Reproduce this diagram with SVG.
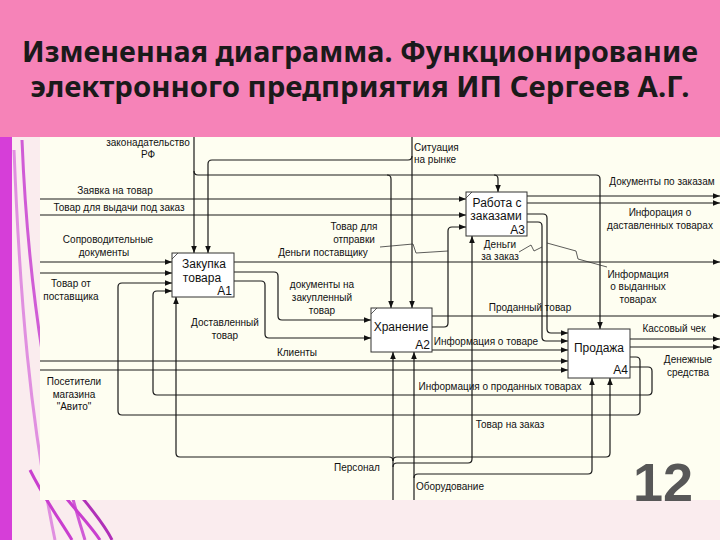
<svg xmlns="http://www.w3.org/2000/svg" width="720" height="540" viewBox="0 0 720 540">
<defs>
<marker id="ah" viewBox="0 0 10 10" refX="10" refY="5" markerWidth="7" markerHeight="7" orient="auto" markerUnits="userSpaceOnUse">
<path d="M0,1 L10,5 L0,9 z" fill="#111"/>
</marker>
<style>
.c{fill:none;stroke:#1a1a1a;stroke-width:1.2;marker-end:url(#ah)}
.l{fill:none;stroke:#333;stroke-width:0.8}
.box{fill:#fff;stroke:#333;stroke-width:1}
.bt{font-family:"Liberation Sans",Arial,sans-serif;font-size:12px;fill:#111}
.t{font-family:"Liberation Sans",Arial,sans-serif;font-size:10px;fill:#111}
.title{font-family:"Noto Sans","Open Sans",sans-serif;font-weight:700;font-size:28px;fill:#1a1a1a}
.deco{fill:none;stroke-width:3}
</style>
</defs>
<rect x="0" y="0" width="720" height="540" fill="#FAECEE"/>
<rect x="0" y="137" width="12" height="403" fill="#D63ED8"/>
<g id="decor">
<path class="deco" d="M14,150 C20,300 30,420 55,540" stroke="#E08FE0"/>
<path class="deco" d="M22,140 C28,290 50,430 85,540" stroke="#D05BD6"/>
<path class="deco" d="M30,470 C45,500 60,520 72,540" stroke="#C93FCF" stroke-width="5"/>
<path class="deco" d="M60,490 C75,510 90,525 100,540" stroke="#C93FCF" stroke-width="4"/>
<path class="deco" d="M80,495 C92,510 105,525 112,540" stroke="#B030B8" stroke-width="3"/>
</g>
<rect x="0" y="0" width="720" height="137" fill="#F683B8"/>
<text class="title" x="360" y="62" text-anchor="middle" textLength="676" lengthAdjust="spacingAndGlyphs">Измененная диаграмма. Функционирование</text>
<text class="title" x="360" y="97" text-anchor="middle" textLength="659" lengthAdjust="spacingAndGlyphs">электронного предприятия ИП Сергеев А.Г.</text>
<rect x="40" y="137" width="680" height="363" fill="#FEFEF1"/>

<g id="connectors">
<path class="c" d="M194,137 V253"/>
<path class="c" d="M194,171 Q194,175 198,175 H596 Q600,175 600,179 V329"/>
<path class="c" d="M387,175 Q391,175 391,179 V308"/>
<path class="c" d="M494,175 Q498,175 498,179 V192"/>
<path class="c" d="M412,137 V308"/>
<path class="c" d="M412,156 Q412,160 408,160 H212 Q208,160 208,164 V253"/>
<path class="c" d="M40,199 H466"/>
<path class="c" d="M40,215 H466"/>
<path class="c" d="M40,262 H172"/>
<path class="c" d="M40,273 H172"/>
<path class="c" d="M234,262 H720"/>
<path class="c" d="M234,272 H274 Q278,272 278,276 V316 Q278,320 282,320 H371"/>
<path class="c" d="M234,281 H261 Q265,281 265,285 V334 Q265,338 269,338 H371"/>
<path class="c" d="M432,327 H444 Q448,327 448,323 V231 Q448,227 452,227 H466"/>
<path class="c" d="M432,316 H720"/>
<path class="c" d="M432,350 H568"/>
<path class="c" d="M40,361 H568"/>
<path class="c" d="M40,370 H568"/>
<path class="c" d="M527,196 H720"/>
<path class="c" d="M527,203 H720"/>
<path class="c" d="M527,214 H543 Q547,214 547,218 V329 Q547,333 551,333 H568"/>
<path class="c" d="M527,222 H538 Q542,222 542,226 V337 Q542,341 546,341 H568"/>
<path class="c" d="M630,339 H720"/>
<path class="c" d="M630,347 H720"/>
<path class="c" d="M630,357 H636 Q640,357 640,361 V411 Q640,415 636,415 H122 Q118,415 118,411 V287 Q118,283 122,283 H172"/>
<path class="c" d="M630,367 H648 Q652,367 652,371 V391 Q652,395 648,395 H157 Q153,395 153,391 V295 Q153,291 157,291 H172"/>
<path class="c" d="M393,500 V352"/>
<path class="c" d="M393,461 Q393,457 389,457 H180 Q176,457 176,453 V297"/>
<path class="c" d="M393,461 Q393,457 397,457 H606 Q610,457 610,453 V378"/>
<path class="c" d="M393,467 Q393,463 397,463 H468 Q472,463 472,459 V236"/>
<path class="c" d="M414,500 V352"/>
<path class="c" d="M414,478 Q414,474 418,474 H588 Q592,474 592,470 V378"/>
<path class="l" d="M380,247 L413,244 L416,253 L448,251"/>
<path class="l" d="M519,252 L531,245 L534,251 L542,247"/>
<path class="l" d="M547,243 L576,251 L578,259 L607,267"/>
</g>

<g id="A1">
<rect class="box" x="172" y="253" width="62" height="44"/>
<path class="l" d="M172,259 L178,253"/>
<text class="bt" x="204" y="268" text-anchor="middle">Закупка</text>
<text class="bt" x="202" y="282" text-anchor="middle">товара</text>
<text class="bt" x="232" y="295" text-anchor="end" font-size="11">A1</text>
</g>
<g id="A2">
<rect class="box" x="371" y="308" width="61" height="44"/>
<path class="l" d="M371,314 L377,308"/>
<text class="bt" x="401" y="331" text-anchor="middle">Хранение</text>
<text class="bt" x="430" y="349" text-anchor="end" font-size="11">A2</text>
</g>
<g id="A3">
<rect class="box" x="466" y="192" width="61" height="44"/>
<path class="l" d="M466,198 L472,192"/>
<text class="bt" x="497" y="207" text-anchor="middle">Работа с</text>
<text class="bt" x="496" y="220" text-anchor="middle">заказами</text>
<text class="bt" x="525" y="234" text-anchor="end" font-size="11">A3</text>
</g>
<g id="A4">
<rect class="box" x="568" y="329" width="62" height="49"/>
<text class="bt" x="599" y="352" text-anchor="middle">Продажа</text>
<text class="bt" x="628" y="374" text-anchor="end" font-size="11">A4</text>
</g>

<g id="labels">
<text class="t" x="148" y="146" text-anchor="middle">законадательство</text>
<text class="t" x="148" y="158" text-anchor="middle">РФ</text>
<text class="t" x="414" y="151">Ситуация</text>
<text class="t" x="414" y="163">на рынке</text>
<text class="t" x="115" y="194" text-anchor="middle">Заявка на товар</text>
<text class="t" x="119" y="211" text-anchor="middle">Товар для выдачи под заказ</text>
<text class="t" x="108" y="243" text-anchor="middle">Сопроводительные</text>
<text class="t" x="104" y="256" text-anchor="middle">документы</text>
<text class="t" x="71" y="287" text-anchor="middle">Товар от</text>
<text class="t" x="71" y="300" text-anchor="middle">поставщика</text>
<text class="t" x="354" y="230" text-anchor="middle">Товар для</text>
<text class="t" x="354" y="243" text-anchor="middle">отправки</text>
<text class="t" x="323" y="256" text-anchor="middle">Деньги поставщику</text>
<text class="t" x="322" y="288" text-anchor="middle">документы на</text>
<text class="t" x="322" y="301" text-anchor="middle">закупленный</text>
<text class="t" x="322" y="314" text-anchor="middle">товар</text>
<text class="t" x="225" y="326" text-anchor="middle">Доставленный</text>
<text class="t" x="225" y="339" text-anchor="middle">товар</text>
<text class="t" x="297" y="356" text-anchor="middle">Клиенты</text>
<text class="t" x="74" y="385" text-anchor="middle">Посетители</text>
<text class="t" x="74" y="398" text-anchor="middle">магазина</text>
<text class="t" x="74" y="410" text-anchor="middle">"Авито"</text>
<text class="t" x="500" y="248" text-anchor="middle">Деньги</text>
<text class="t" x="500" y="260" text-anchor="middle">за заказ</text>
<text class="t" x="662" y="185" text-anchor="middle">Документы по заказам</text>
<text class="t" x="660" y="216" text-anchor="middle">Инфорация о</text>
<text class="t" x="660" y="229" text-anchor="middle">даставленных товарах</text>
<text class="t" x="638" y="278" text-anchor="middle">Информация</text>
<text class="t" x="638" y="290" text-anchor="middle">о выданных</text>
<text class="t" x="638" y="303" text-anchor="middle">товарах</text>
<text class="t" x="530" y="311" text-anchor="middle">Проданный товар</text>
<text class="t" x="674" y="332" text-anchor="middle">Кассовый чек</text>
<text class="t" x="688" y="363" text-anchor="middle">Денежные</text>
<text class="t" x="688" y="376" text-anchor="middle">средства</text>
<text class="t" x="486" y="345" text-anchor="middle">Информация о товаре</text>
<text class="t" x="500" y="390" text-anchor="middle">Информация о проданных товарах</text>
<text class="t" x="510" y="428" text-anchor="middle">Товар на заказ</text>
<text class="t" x="357" y="471" text-anchor="middle">Персонал</text>
<text class="t" x="416" y="490">Оборудование</text>
</g>
<text x="663" y="501" text-anchor="middle" font-family="Liberation Sans, Arial, sans-serif" font-weight="bold" font-size="54" fill="#575757">12</text>
</svg>
